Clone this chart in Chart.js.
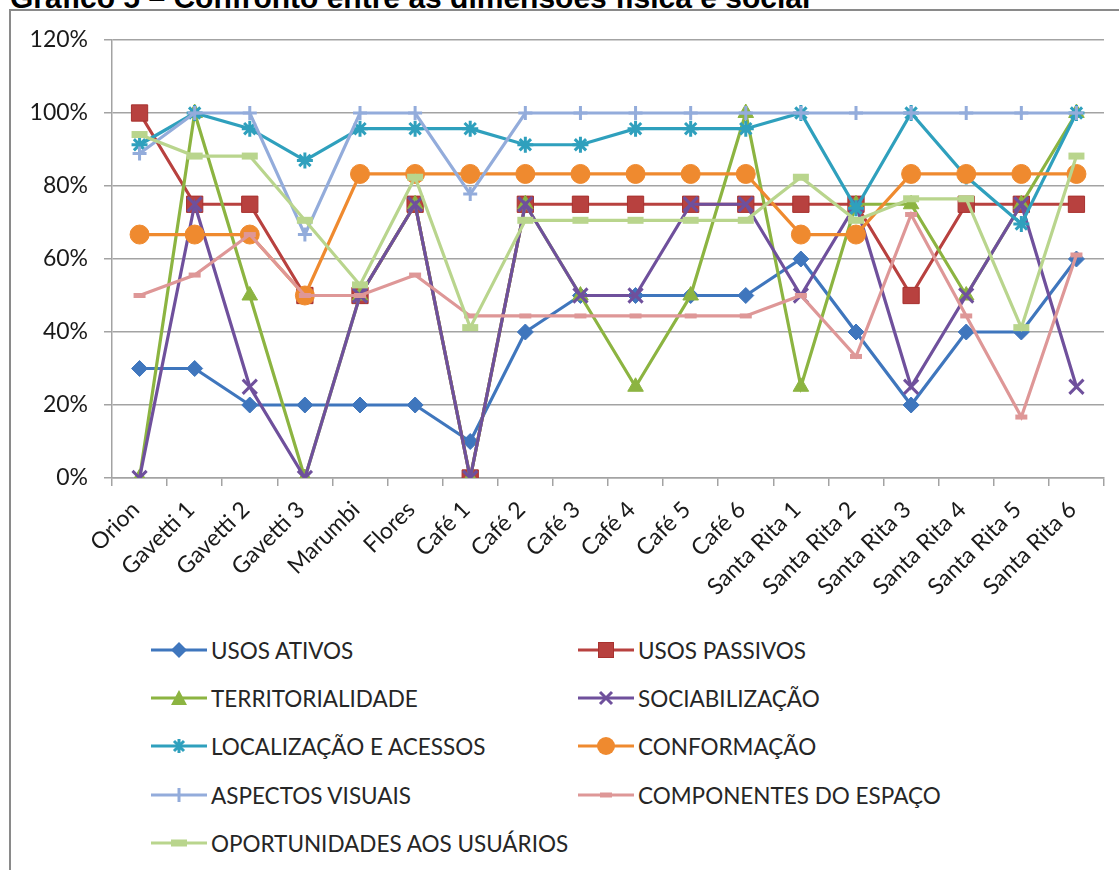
<!DOCTYPE html>
<html>
<head>
<meta charset="utf-8">
<script src="https://cdn.jsdelivr.net/npm/chart.js@4/dist/chart.umd.min.js"></script>
<style>
  html, body { margin: 0; padding: 0; background: #fff; width: 1119px; height: 870px; overflow: hidden; }
  #title { position: absolute; left: 10px; top: -17px; font-family: "Liberation Sans", Arial, sans-serif; font-weight: bold; font-size: 30px; line-height: 30px; color: #000; white-space: nowrap; }
  #frame { position: absolute; left: 9px; top: 9px; width: 1200px; height: 1000px; border: 2px solid #8a8a8a; box-sizing: border-box; background: #fff; }
  #wrap { position: absolute; left: 0; top: 0; width: 1119px; height: 620px; }
  .leg { position: absolute; height: 30px; display: flex; align-items: center; font-family: Lato, "Open Sans", sans-serif; font-size: 22.5px; color: #262626; white-space: nowrap; }
  .leg svg { margin-right: 4px; }
</style>
</head>
<body>
<div id="title">Gráfico 5 – Confronto entre as dimensões física e social</div>
<div id="frame"></div>
<div id="wrap"><canvas id="c"></canvas></div>
<div id="legend"></div>
<script>
const categories = ['Orion','Gavetti 1','Gavetti 2','Gavetti 3','Marumbi','Flores','Café 1','Café 2','Café 3','Café 4','Café 5','Café 6','Santa Rita 1','Santa Rita 2','Santa Rita 3','Santa Rita 4','Santa Rita 5','Santa Rita 6'];
const yTickValues = [0, 20, 40, 60, 80, 100, 120];

const usosAtivos      = [30,30,20,20,20,20,10,40,50,50,50,50,60,40,20,40,40,60];
const usosPassivos    = [100,75,75,50,50,75,0,75,75,75,75,75,75,75,50,75,75,75];
const territorialidade= [0,100,50,0,50,75,0,75,50,25,50,100,25,75,75,50,75,100];
const sociabilizacao  = [0,75,25,0,50,75,0,75,50,50,75,75,50,75,25,50,75,25];
const localizacao     = [91.3,100,95.7,87,95.7,95.7,95.7,91.3,91.3,95.7,95.7,95.7,100,73.9,100,82.6,69.6,100];
const conformacao     = [66.7,66.7,66.7,50,83.3,83.3,83.3,83.3,83.3,83.3,83.3,83.3,66.7,66.7,83.3,83.3,83.3,83.3];
const aspectosVisuais = [88.9,100,100,66.7,100,100,77.8,100,100,100,100,100,100,100,100,100,100,100];
const componentes     = [50,55.6,66.7,50,50,55.6,44.4,44.4,44.4,44.4,44.4,44.4,50,33.3,72.2,44.4,16.7,61.1];
const oportunidades   = [94.1,88.2,88.2,70.6,52.9,82.4,41.2,70.6,70.6,70.6,70.6,70.6,82.4,70.6,76.5,76.5,41.2,88.2];

const seriesNames = ['USOS ATIVOS','USOS PASSIVOS','TERRITORIALIDADE','SOCIABILIZAÇÃO','LOCALIZAÇÃO E ACESSOS','CONFORMAÇÃO','ASPECTOS VISUAIS','COMPONENTES DO ESPAÇO','OPORTUNIDADES AOS USUÁRIOS'];
const seriesData = [usosAtivos, usosPassivos, territorialidade, sociabilizacao, localizacao, conformacao, aspectosVisuais, componentes, oportunidades];

const styles = [
  { line: '#3f76bd', fill: '#3f76bd', edge: '#3f76bd', shape: 'rectRot', r: 8, bw: 1 },
  { line: '#b8413f', fill: '#b8413f', edge: '#a8322f', shape: 'rect', r: 11.5, bw: 1 },
  { line: '#8cb441', fill: '#8cb441', edge: '#8cb441', shape: 'triangle', r: 9, bw: 1 },
  { line: '#6f509c', fill: '#6f509c', edge: '#6f509c', shape: 'crossRot', r: 10, bw: 3 },
  { line: '#2fa0bd', fill: '#2fa0bd', edge: '#2fa0bd', shape: 'star', r: 8, bw: 3 },
  { line: '#ef8a2f', fill: '#ef8a2f', edge: '#ef8a2f', shape: 'circle', r: 9.5, bw: 1 },
  { line: '#93acdb', fill: '#93acdb', edge: '#93acdb', shape: 'cross', r: 7, bw: 3 },
  { line: '#de9797', fill: '#de9797', edge: '#de9797', shape: 'line', r: 6, bw: 5 },
  { line: '#b9d58d', fill: '#b9d58d', edge: '#b9d58d', shape: 'line', r: 8, bw: 7 }
];

const datasets = seriesNames.map((name, i) => ({
  label: name,
  data: seriesData[i],
  borderColor: styles[i].line,
  backgroundColor: styles[i].fill,
  borderWidth: 3.2,
  pointStyle: styles[i].shape,
  pointRadius: styles[i].r,
  pointBackgroundColor: styles[i].fill,
  pointBorderColor: styles[i].edge,
  pointBorderWidth: styles[i].bw,
  tension: 0,
  fill: false,
  order: seriesNames.length - i
}));

const gridColor = '#a3a3a3';
const labelFont = { family: 'Lato, "Open Sans", sans-serif', size: 23 };

new Chart(document.getElementById('c'), {
  type: 'line',
  data: { labels: categories, datasets },
  options: {
    responsive: true,
    maintainAspectRatio: false,
    animation: false,
    events: [],
    layout: { padding: { top: 40, right: 15, left: 0, bottom: 0 } },
    plugins: { legend: { display: false }, tooltip: { enabled: false }, title: { display: false } },
    scales: {
      x: {
        type: 'category',
        offset: true,
        grid: { display: true, drawOnChartArea: false, drawTicks: true, tickLength: 8, offset: true, color: gridColor, lineWidth: 1.5 },
        border: { display: true, color: gridColor, width: 1.5 },
        ticks: { color: '#1a1a1a', font: labelFont, minRotation: 45, maxRotation: 45, padding: 10, labelOffset: -4, autoSkip: false },
        afterFit: s => { s.height = 142; }
      },
      y: {
        min: 0, max: 120,
        afterBuildTicks: s => { s.ticks = yTickValues.map(v => ({ value: v })); },
        grid: { color: gridColor, lineWidth: 1.5, tickLength: 8, drawTicks: true },
        border: { display: true, color: gridColor, width: 1.5 },
        ticks: { color: '#1a1a1a', font: labelFont, padding: 16, callback: v => v + '%' },
        afterFit: s => { s.width = 112; }
      }
    }
  }
});

// HTML legend in two columns
function markerSvg(st) {
  const w = 56, h = 30, cx = w / 2, cy = h / 2;
  let shape = '';
  const f = st.fill, e = st.edge;
  switch (st.shape) {
    case 'rectRot': shape = `<polygon points="${cx-8},${cy} ${cx},${cy-8} ${cx+8},${cy} ${cx},${cy+8}" fill="${f}"/>`; break;
    case 'rect': shape = `<rect x="${cx-7.5}" y="${cy-7.5}" width="15" height="15" fill="${f}" stroke="${e}"/>`; break;
    case 'triangle': shape = `<polygon points="${cx-8},${cy+7} ${cx},${cy-8} ${cx+8},${cy+7}" fill="${f}"/>`; break;
    case 'crossRot': shape = `<path d="M${cx-6},${cy-6}L${cx+6},${cy+6}M${cx+6},${cy-6}L${cx-6},${cy+6}" stroke="${f}" stroke-width="3"/>`; break;
    case 'star': shape = `<path d="M${cx-5},${cy-5}L${cx+5},${cy+5}M${cx+5},${cy-5}L${cx-5},${cy+5}M${cx},${cy-7}L${cx},${cy+7}" stroke="${f}" stroke-width="3"/>`; break;
    case 'circle': shape = `<circle cx="${cx}" cy="${cy}" r="9" fill="${f}"/>`; break;
    case 'cross': shape = `<path d="M${cx},${cy-7}L${cx},${cy+7}" stroke="${f}" stroke-width="3"/>`; break;
    case 'line': shape = `<path d="M${cx-st.r},${cy}L${cx+st.r},${cy}" stroke="${f}" stroke-width="${st.bw}"/>`; break;
  }
  return `<svg width="${w}" height="${h}" viewBox="0 0 ${w} ${h}"><path d="M0,${cy}L${w},${cy}" stroke="${st.line}" stroke-width="3"/>${shape}</svg>`;
}
const legendEl = document.getElementById('legend');
const colX = [151, 578];
const rowY = [635, 683, 731, 780, 828];
seriesNames.forEach((name, i) => {
  const d = document.createElement('div');
  d.className = 'leg';
  d.style.left = colX[i % 2] + 'px';
  d.style.top = rowY[Math.floor(i / 2)] + 'px';
  d.innerHTML = markerSvg(styles[i]) + '<span>' + name + '</span>';
  legendEl.appendChild(d);
});
</script>
</body>
</html>
